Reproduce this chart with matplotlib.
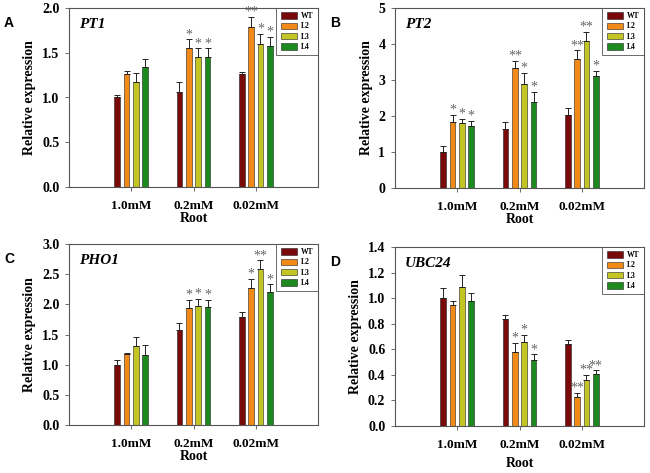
import matplotlib
matplotlib.use("Agg")
import matplotlib.pyplot as plt
import numpy as np

categories = ["1.0mM", "0.2mM", "0.02mM"]
lines = ["WT", "L2", "L3", "L4"]
colors = ["#7a0a0a", "#f28a17", "#c3c524", "#1c8a1f"]

# Panel A: PT1  (rows: WT, L2, L3, L4; cols: 1.0mM, 0.2mM, 0.02mM)
pt1_vals = [[1.00, 1.06, 1.26], [1.26, 1.55, 1.79], [1.17, 1.45, 1.60], [1.34, 1.45, 1.58]]
pt1_errs = [[0.03, 0.11, 0.02], [0.035, 0.10, 0.11], [0.10, 0.10, 0.11], [0.09, 0.10, 0.10]]
pt1_sig = [["", "", ""], ["", "*", "**"], ["", "*", "*"], ["", "*", "*"]]

# Panel B: PT2
pt2_vals = [[1.00, 1.65, 2.04], [1.84, 3.33, 3.59], [1.80, 2.88, 4.09], [1.73, 2.40, 3.11]]
pt2_errs = [[0.17, 0.17, 0.19], [0.19, 0.20, 0.23], [0.13, 0.31, 0.24], [0.14, 0.28, 0.15]]
pt2_sig = [["", "", ""], ["*", "**", "**"], ["*", "*", "**"], ["*", "*", "*"]]

# Panel C: PHO1
pho1_vals = [[1.00, 1.57, 1.79], [1.18, 1.94, 2.27], [1.31, 1.97, 2.59], [1.16, 1.95, 2.21]]
pho1_errs = [[0.08, 0.12, 0.08], [0.02, 0.13, 0.15], [0.15, 0.12, 0.14], [0.16, 0.12, 0.12]]
pho1_sig = [["", "", ""], ["", "*", "*"], ["", "*", "**"], ["", "*", "*"]]

# Panel D: UBC24
ubc_vals = [[1.00, 0.84, 0.64], [0.95, 0.58, 0.23], [1.09, 0.66, 0.36], [0.98, 0.52, 0.41]]
ubc_errs = [[0.08, 0.03, 0.03], [0.03, 0.07, 0.03], [0.09, 0.05, 0.04], [0.06, 0.04, 0.025]]
ubc_sig = [["", "", ""], ["", "*", "**"], ["", "*", "**"], ["", "*", "**"]]

panels = [
    ("A", "PT1", pt1_vals, pt1_errs, pt1_sig, (0, 2.0), np.arange(0, 2.01, 0.5), "{:.1f}",
     [69/650, 1-187/473, 249/650, 179/473], 0),
    ("B", "PT2", pt2_vals, pt2_errs, pt2_sig, (0, 5), np.arange(0, 5.1, 1), "{:.0f}",
     [395/650, 1-188/473, 249/650, 180/473], 0),
    ("C", "PHO1", pho1_vals, pho1_errs, pho1_sig, (0, 3.0), np.arange(0, 3.01, 0.5), "{:.1f}",
     [69/650, 1-425/473, 249/650, 181/473], 0),
    ("D", "UBC24", ubc_vals, ubc_errs, ubc_sig, (0, 1.4), np.arange(0, 1.41, 0.2), "{:.1f}",
     [395/650, 1-426/473, 249/650, 179/473], 5),
]

serif = ["Liberation Serif", "DejaVu Serif"]
fig = plt.figure(figsize=(6.5, 4.73), dpi=100)

x = np.arange(1, len(categories) + 1)
pitch = 0.15
width = 0.092
spine_col = "#555555"

for letter, gene, vals, errs, sigs, ylim, yt, fmt, pos, xlpad in panels:
    ax = fig.add_axes(pos)
    span = ylim[1] - ylim[0]
    for i, (ln, col) in enumerate(zip(lines, colors)):
        xs = x + (i - 1.5) * pitch
        v = np.array(vals[i])
        e = np.array(errs[i])
        ax.bar(xs, v, width=width, color=col, edgecolor="#222222", linewidth=0.4, label=ln, zorder=2)
        ax.errorbar(xs, v, yerr=[np.zeros_like(e), e], fmt="none", ecolor="#222222",
                    elinewidth=0.7, capsize=2.0, capthick=0.7, zorder=3)
        for xi, vi, ei, s in zip(xs, v, e, sigs[i]):
            if s:
                ax.text(xi, vi + ei - span * 0.01, s, ha="center", va="bottom",
                        fontsize=10, color="#666666", family=serif, zorder=1)
    ax.set_xlim(0, 4)
    ax.set_ylim(*ylim)
    ax.set_yticks(yt)
    ax.set_yticklabels([fmt.format(t) for t in yt], family=serif, fontweight="bold", fontsize=10)
    ax.set_xticks(x)
    ax.set_xticklabels(categories, family=serif, fontweight="bold", fontsize=9.5)
    ax.tick_params(axis="both", direction="out", length=3, width=0.6, color=spine_col, pad=4)
    ax.tick_params(axis="x", pad=6)
    for sp in ax.spines.values():
        sp.set_color(spine_col)
        sp.set_linewidth(0.8)
    ax.set_xlabel("Root", family=serif, fontweight="bold", fontsize=10, labelpad=xlpad)
    ax.set_ylabel("Relative expression", family=serif, fontweight="bold", fontsize=10, labelpad=4)
    ax.text(0.04, 0.91, gene, transform=ax.transAxes, family=serif, fontstyle="italic",
            fontweight="bold", fontsize=11, ha="left", va="center")
    leg = ax.legend(loc="upper right", bbox_to_anchor=(1.0, 1.0), prop={"family": serif, "weight": "bold", "size": 5.5},
                    frameon=True, fancybox=False, handlelength=2.2, handleheight=0.9,
                    borderpad=0.55, labelspacing=0.3, handletextpad=0.5, borderaxespad=0.0)
    leg.get_frame().set_edgecolor("#444444")
    leg.get_frame().set_linewidth(0.7)
    leg.set_zorder(5)
    # panel letter
    fx = pos[0] - 65/650
    fy = pos[1] + pos[3] - 8/473
    fig.text(fx, fy, letter, fontsize=10, fontweight="bold", family=["Liberation Sans", "DejaVu Sans"],
             ha="left", va="top")

fig.savefig("out.png", dpi=100)
